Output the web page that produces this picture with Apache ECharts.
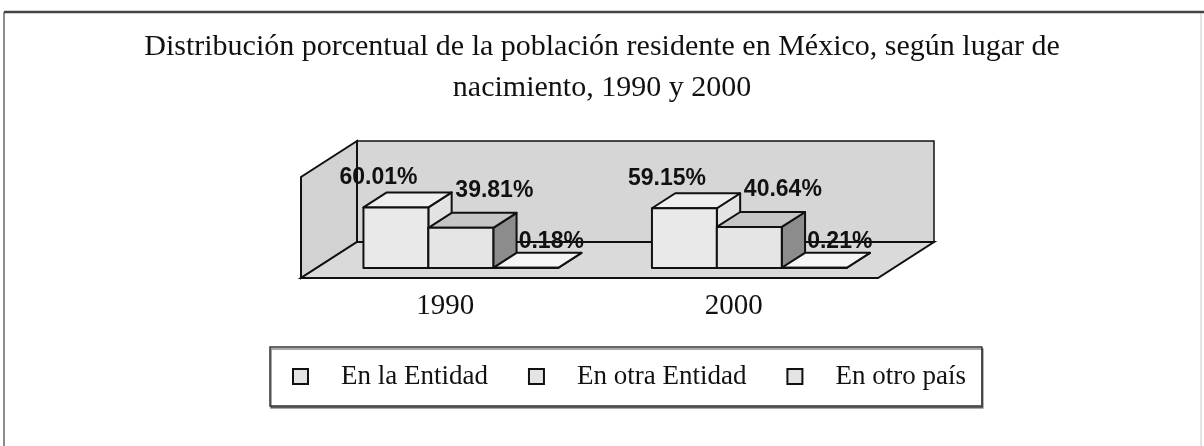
<!DOCTYPE html>
<html><head><meta charset="utf-8">
<script src="https://cdn.jsdelivr.net/npm/echarts@6.0.0/dist/echarts.min.js"></script>
<style>html,body{margin:0;padding:0;background:#fff}#chart{width:1204px;height:446px}</style>
</head><body><div id="chart"></div>
<script>
const titleText = 'Distribución porcentual de la población residente en México, según lugar de\nnacimiento, 1990 y 2000';
const years = ['1990', '2000'];
const seriesNames = ['En la Entidad', 'En otra Entidad', 'En otro país'];
const enLaEntidad = [60.01, 59.15];
const enOtraEntidad = [39.81, 40.64];
const enOtroPais = [0.18, 0.21];
const yMax = 100;

const seriesValues = [enLaEntidad, enOtraEntidad, enOtroPais];

// 3D look (styling constants)
const DEPTH = [56, -36];
const F0 = 0.278, F1 = 0.694;
const BAR_FRAC = 0.225;
const faceStyles = [
  {front: '#e9e9e9', top: '#efefef', side: '#e3e3e3'},
  {front: '#e5e5e5', top: '#c6c6c6', side: '#8c8c8c'},
  {front: '#f3f3f3', top: '#f5f5f5', side: '#e2e2e2'}
];
const labelOffsets = [[15, -30], [66, -37], [58, -26]];
const edge = {stroke: '#111', lineWidth: 2, lineJoin: 'round'};

function makeBarRender(si) {
  return function (params, api) {
    const cat = api.value(0), val = api.value(1);
    const p0 = api.coord([cat, 0]), p1 = api.coord([cat, val]);
    const band = api.size([1, 0])[0];
    const w = band * BAR_FRAC;
    const ox = F0 * DEPTH[0], oy = F0 * DEPTH[1];
    const dx = (F1 - F0) * DEPTH[0], dy = (F1 - F0) * DEPTH[1];
    const x0 = p0[0] - 1.5 * w + si * w + ox;
    const x1 = x0 + w;
    const yb = p0[1] + oy, yt = p1[1] + oy;
    const st = faceStyles[si];
    return {
      type: 'group',
      children: [
        {type: 'polygon', shape: {points: [[x1, yt], [x1 + dx, yt + dy], [x1 + dx, yb + dy], [x1, yb]]}, style: Object.assign({fill: st.side}, edge)},
        {type: 'polygon', shape: {points: [[x0, yt], [x1, yt], [x1 + dx, yt + dy], [x0 + dx, yt + dy]]}, style: Object.assign({fill: st.top}, edge)},
        {type: 'rect', shape: {x: x0, y: yt, width: w, height: yb - yt}, style: Object.assign({fill: st.front}, edge)},
        {type: 'text', x: x0 + labelOffsets[si][0], y: yt + labelOffsets[si][1], z2: 100,
          style: {text: val.toFixed(2) + '%', font: 'bold 23px "Liberation Sans", Arial, sans-serif', fill: '#111', align: 'center', verticalAlign: 'middle'}}
      ]
    };
  };
}

function renderFrame(params, api) {
  const cs = params.coordSys;
  const L = cs.x, R = cs.x + cs.width, T = cs.y, B = cs.y + cs.height;
  const dx = DEPTH[0], dy = DEPTH[1];
  return {
    type: 'group',
    children: [
      {type: 'rect', shape: {x: L + dx, y: T + dy, width: R - L, height: B - T}, style: {fill: '#d6d6d6', stroke: '#111', lineWidth: 1.5}},
      {type: 'polygon', shape: {points: [[L, B], [L, T], [L + dx, T + dy], [L + dx, B + dy]]}, style: {fill: '#d2d2d2', stroke: '#111', lineWidth: 2}},
      {type: 'polygon', shape: {points: [[L, B], [R, B], [R + dx, B + dy], [L + dx, B + dy]]}, style: {fill: '#dadada', stroke: '#111', lineWidth: 2}}
    ]
  };
}

const chart = echarts.init(document.getElementById('chart'), null, {renderer: 'canvas'});
const series = [{
  type: 'custom', name: 'frame', renderItem: renderFrame, data: [[0, 0]], silent: true, z: 1
}].concat(seriesNames.map((n, si) => ({
  type: 'custom', name: n, renderItem: makeBarRender(si), z: 2 + si,
  data: years.map((y, i) => [i, seriesValues[si][i]]),
  itemStyle: {color: faceStyles[si].front}
})));

chart.setOption({
  animation: false,
  backgroundColor: '#fff',
  title: {
    text: titleText, left: 'center', top: 22,
    textStyle: {fontFamily: '"Liberation Serif", "Times New Roman", serif', fontSize: 30, fontWeight: 'normal', color: '#111', lineHeight: 41, align: 'center'}
  },
  grid: {left: 301, right: 326, top: 177, bottom: 168, containLabel: false},
  xAxis: {
    type: 'category', data: years, boundaryGap: true,
    axisLine: {show: false}, axisTick: {show: false}, splitLine: {show: false},
    axisLabel: {fontFamily: '"Liberation Serif", serif', fontSize: 29, color: '#111', margin: 14}
  },
  yAxis: {type: 'value', min: 0, max: yMax, show: false, splitLine: {show: false}},
  legend: {
    left: 270, top: 347, orient: 'horizontal', selectedMode: false,
    padding: [16, 16, 16, 22], itemGap: 40, itemWidth: 15, itemHeight: 15,
    borderColor: '#333', borderWidth: 1.5, backgroundColor: '#fff',
    shadowColor: 'rgba(0,0,0,0.45)', shadowOffsetX: 1, shadowOffsetY: 2, shadowBlur: 0,
    data: seriesNames.map(n => ({name: n, icon: 'rect', itemStyle: {color: '#e4e4e4', borderColor: '#111', borderWidth: 2}})),
    formatter: n => '{t|' + n + '}',
    textStyle: {rich: {t: {fontFamily: '"Liberation Serif", serif', fontSize: 27, color: '#111', padding: [0, 0, 0, 28], lineHeight: 27}}}
  },
  graphic: [
    {type: 'line', shape: {x1: 4, y1: 12, x2: 4, y2: 446}, style: {stroke: '#666', lineWidth: 1.5}, z: 100},
    {type: 'line', shape: {x1: 1201, y1: 12, x2: 1201, y2: 446}, style: {stroke: '#c8c8c8', lineWidth: 1}, z: 100},
    {type: 'line', shape: {x1: 4, y1: 12, x2: 1204, y2: 12}, style: {stroke: '#444', lineWidth: 2.5}, z: 100}
  ],
  series: series
});
</script>
</body></html>
